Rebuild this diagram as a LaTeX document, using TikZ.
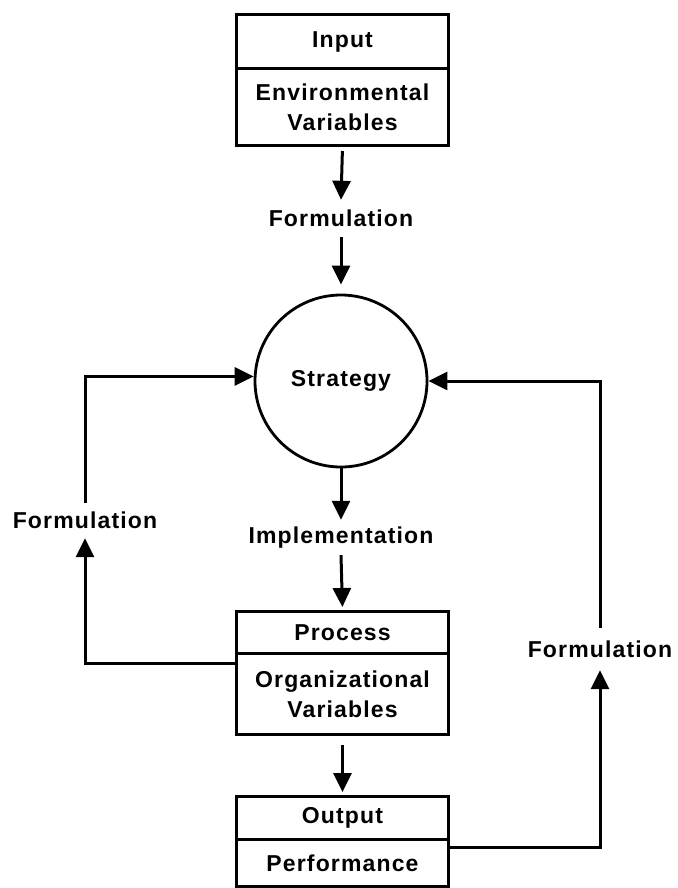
\documentclass[tikz,border=0pt]{standalone}
\usepackage{fontspec}
\setmainfont{Liberation Sans}[LetterSpace=5]
\usetikzlibrary{arrows.meta,calc}
\begin{document}
\begin{tikzpicture}[x=1pt,y=-1pt,
  font=\bfseries\fontsize{23}{30}\selectfont,
  box/.style={draw,line width=3pt,minimum width=212pt,inner sep=0pt,
    align=center,anchor=north west},
  lbl/.style={inner sep=0pt,minimum height=#1},
  flow/.style={line width=3pt,-{Triangle[length=19pt,width=18pt]}}]
\useasboundingbox (0,0) rectangle (677,888);

% boxes
\node[box,minimum height=54pt] (inHead) at (235,13) {Input};
\node[box,minimum height=77pt] (inBody) at (235,67) {Environmental\\Variables};
\node[box,minimum height=42pt] (prHead) at (235,610) {Process};
\node[box,minimum height=81pt] (prBody) at (235,652) {Organizational\\Variables};
\node[box,minimum height=43pt] (outHead) at (235,795) {Output};
\node[box,minimum height=47pt] (outBody) at (235,838) {Performance};

% strategy circle
\node[draw,circle,line width=2.8pt,minimum size=172pt,inner sep=0pt] (strat) at (341,381) {Strategy};

% connector labels
\node[lbl=37pt] (f1) at (341,218.5) {Formulation};
\node[lbl=35pt] (impl) at (341,537.5) {Implementation};
\node[lbl=35pt] (fL) at (85,520.5) {Formulation};
\node[lbl=42pt] (fR) at (600,649) {Formulation};

% loop end points on the box edges
\coordinate (lA) at (235,663);
\coordinate (rA) at (447,847);

% main flow
\draw[flow,shorten <=4pt] (inBody.south) -- (f1.north);
\draw[flow,shorten >=9pt] (f1.south) -- (strat.north);
\draw[flow] (strat.south) -- (impl.north);
\draw[flow,shorten >=3pt] (impl.south) -- (prHead.north);
\draw[flow,shorten <=9pt,shorten >=3pt] (prBody.south) -- (outHead.north);

% feedback loops
\draw[flow] (lA) -| (fL.south);
\draw[flow] (fL.north) |- (strat.177);
\draw[flow] (rA) -| (fR.south);
\draw[flow] (fR.north) |- (strat.east);
\end{tikzpicture}
\end{document}
